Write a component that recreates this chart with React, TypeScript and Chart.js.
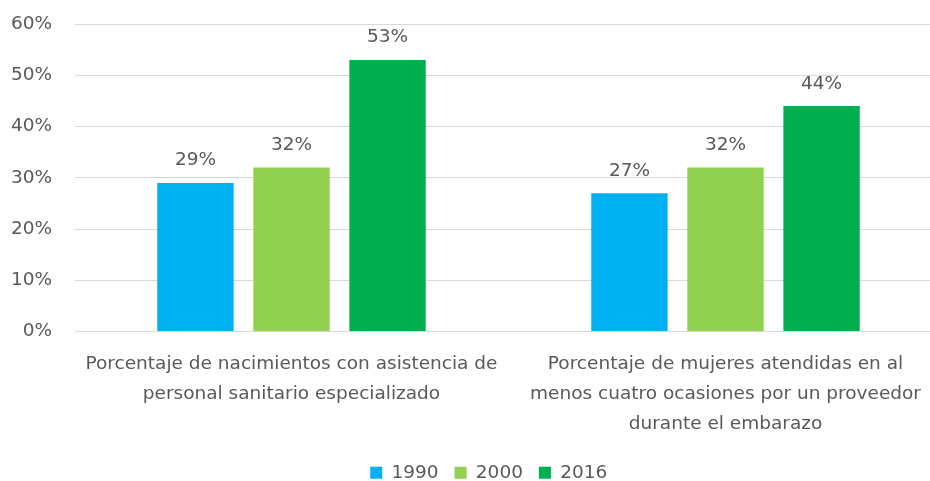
import React, { useEffect, useRef } from "react";
import { Chart, registerables } from "chart.js";

Chart.register(...registerables);

const categories: string[][] = [
  ["Porcentaje de nacimientos con asistencia de", "personal sanitario especializado"],
  ["Porcentaje de mujeres atendidas en al", "menos cuatro ocasiones por un proveedor", "durante el embarazo"],
];
const seriesLabels = ["1990", "2000", "2016"];
const values1990 = [29, 27];
const values2000 = [32, 32];
const values2016 = [53, 44];
const seriesColors = ["#00B0F0", "#92D050", "#00B050"];
const yTickMax = 60;
const yTickStep = 10;

const TEXT = "#595959";
const FONT = "'DejaVu Sans', sans-serif";
const FS = 18.5;

const dataLabelPlugin = {
  id: "barValueLabels",
  afterDatasetsDraw(chart: any) {
    const ctx = chart.ctx;
    ctx.save();
    ctx.font = `${FS}px ${FONT}`;
    ctx.fillStyle = TEXT;
    ctx.textAlign = "center";
    ctx.textBaseline = "alphabetic";
    chart.data.datasets.forEach((ds: any, di: number) => {
      const meta = chart.getDatasetMeta(di);
      meta.data.forEach((el: any, i: number) => {
        ctx.fillText(`${ds.data[i]}%`, el.x, el.y - 17.5);
      });
    });
    ctx.restore();
  },
};

const legendShiftPlugin = {
  id: "legendShift",
  afterLayout(chart: any) {
    const lg = chart.legend;
    if (lg) {
      lg.left += 12.5;
      lg.right += 12.5;
    }
  },
};

export default function App() {
  const ref = useRef<HTMLCanvasElement>(null);
  useEffect(() => {
    if (!ref.current) return;
    const chart = new Chart(ref.current, {
      type: "bar",
      data: {
        labels: categories,
        datasets: [
          { label: seriesLabels[0], data: values1990, backgroundColor: seriesColors[0] },
          { label: seriesLabels[1], data: values2000, backgroundColor: seriesColors[1] },
          { label: seriesLabels[2], data: values2016, backgroundColor: seriesColors[2] },
        ],
      },
      options: {
        responsive: false,
        animation: false,
        datasets: {
          bar: { categoryPercentage: 0.664, barPercentage: 0.795 },
        },
        layout: { padding: { top: 24, left: 10, right: 33.5, bottom: 0 } },
        plugins: {
          tooltip: { enabled: false },
          legend: {
            position: "bottom",
            labels: {
              boxWidth: 12,
              boxHeight: 12,
              padding: 16,
              color: TEXT,
              font: { family: FONT, size: FS },
            },
          },
        },
        scales: {
          x: {
            grid: { display: false, drawTicks: false },
            border: { display: false },
            ticks: {
              color: TEXT,
              padding: 17.5,
              font: { family: FONT, size: FS, lineHeight: 30 / FS },
              maxRotation: 0,
              autoSkip: false,
            },
            afterFit: (s: any) => {
              s.height -= 9;
            },
          },
          y: {
            min: 0,
            max: yTickMax,
            grid: { color: "#D9D9D9", lineWidth: 1, drawTicks: false },
            border: { display: false },
            ticks: {
              stepSize: yTickStep,
              color: TEXT,
              padding: 22.5,
              font: { family: FONT, size: FS },
              callback: (v: any) => `${v}%`,
            },
            afterFit: (s: any) => {
              s.width = 64.5;
              s.paddingTop = 0;
              s.paddingBottom = 0;
            },
          },
        },
      },
      plugins: [dataLabelPlugin, legendShiftPlugin],
    });
    return () => chart.destroy();
  }, []);
  return (
    <div
      style={{
        position: "fixed",
        left: 0,
        top: 0,
        width: 930,
        height: 481,
        overflow: "hidden",
        background: "#fff",
      }}
    >
      <canvas ref={ref} width={976} height={492} style={{ display: "block" }} />
    </div>
  );
}
